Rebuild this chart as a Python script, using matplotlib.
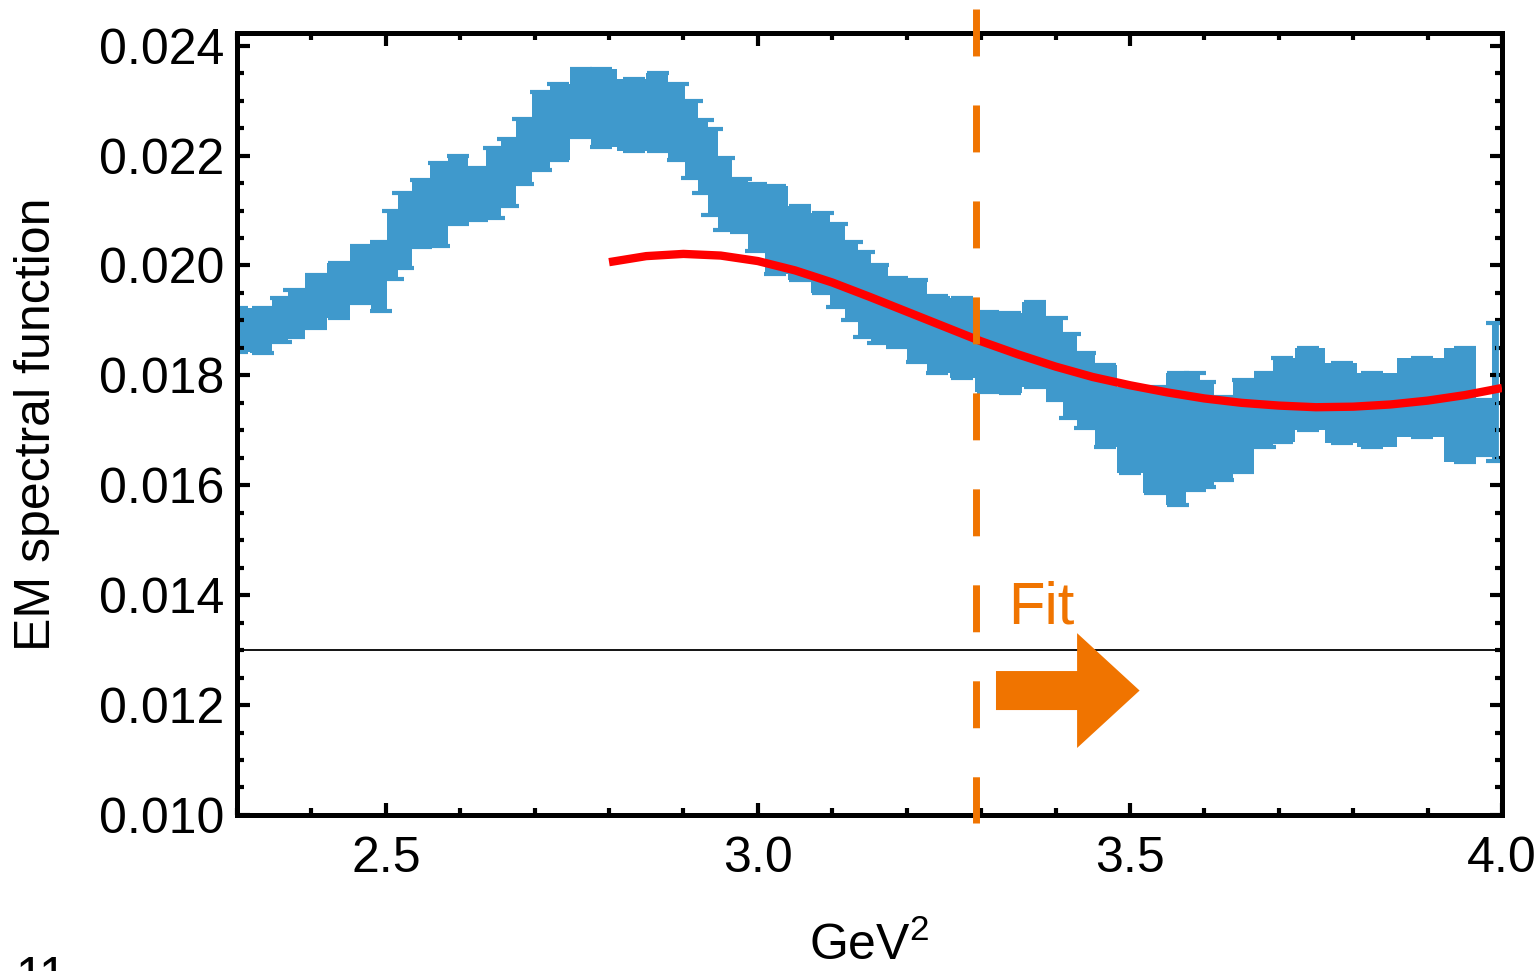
import matplotlib
matplotlib.use("Agg")
import matplotlib.pyplot as plt
from matplotlib.ticker import MultipleLocator, FormatStrFormatter

plt.rcParams['font.family'] = ['Liberation Sans', 'DejaVu Sans']
plt.rcParams['mathtext.fontset'] = 'custom'
plt.rcParams['mathtext.rm'] = 'Liberation Sans'
plt.rcParams['lines.scale_dashes'] = False

# lattice band: lower / upper edge of the error bars
band_x = [2.300, 2.335, 2.359, 2.377, 2.406, 2.437, 2.466, 2.493, 2.509, 2.523,
          2.547, 2.571, 2.597, 2.623, 2.645, 2.664, 2.685, 2.708, 2.732, 2.762,
          2.789, 2.833, 2.866, 2.893, 2.912, 2.926, 2.939, 2.954, 2.977, 2.997,
          3.023, 3.057, 3.087, 3.107, 3.127, 3.142, 3.162, 3.187, 3.214, 3.241,
          3.275, 3.309, 3.339, 3.372, 3.402, 3.419, 3.440, 3.466, 3.500, 3.534,
          3.564, 3.587, 3.601, 3.625, 3.652, 3.681, 3.704, 3.739, 3.785, 3.826,
          3.893, 3.950, 3.979, 3.993]
band_hi = [0.01922, 0.01922, 0.01940, 0.01955, 0.01982, 0.02004, 0.02036, 0.02042, 0.02100, 0.02131,
           0.02155, 0.02187, 0.02200, 0.02178, 0.02213, 0.02231, 0.02267, 0.02315, 0.02331, 0.02358,
           0.02358, 0.02340, 0.02351, 0.02331, 0.02300, 0.02264, 0.02249, 0.02196, 0.02158, 0.02149,
           0.02145, 0.02109, 0.02096, 0.02076, 0.02042, 0.02024, 0.02000, 0.01978, 0.01973, 0.01945,
           0.01940, 0.01915, 0.01913, 0.01933, 0.01905, 0.01876, 0.01840, 0.01818, 0.01778, 0.01778,
           0.01805, 0.01805, 0.01787, 0.01760, 0.01791, 0.01804, 0.01831, 0.01849, 0.01822, 0.01805,
           0.01831, 0.01849, 0.01755, 0.01895]
band_lo = [0.01842, 0.01840, 0.01860, 0.01869, 0.01887, 0.01904, 0.01931, 0.01918, 0.01976, 0.01995,
           0.02033, 0.02036, 0.02076, 0.02082, 0.02087, 0.02109, 0.02149, 0.02173, 0.02191, 0.02233,
           0.02215, 0.02209, 0.02209, 0.02191, 0.02160, 0.02131, 0.02091, 0.02064, 0.02060, 0.02027,
           0.01985, 0.01973, 0.01949, 0.01924, 0.01900, 0.01869, 0.01858, 0.01851, 0.01824, 0.01805,
           0.01796, 0.01769, 0.01767, 0.01778, 0.01755, 0.01722, 0.01705, 0.01669, 0.01622, 0.01585,
           0.01564, 0.01591, 0.01596, 0.01609, 0.01624, 0.01669, 0.01678, 0.01700, 0.01676, 0.01669,
           0.01687, 0.01642, 0.01655, 0.01645]

# fit curve
fit_x = [2.80, 2.85, 2.90, 2.95, 3.00, 3.05, 3.10, 3.15, 3.20, 3.25, 3.30, 3.35, 3.40,
         3.45, 3.50, 3.55, 3.60, 3.65, 3.70, 3.75, 3.80, 3.85, 3.90, 3.95, 4.00]
fit_y = [0.02006, 0.02017, 0.02021, 0.02018, 0.02008, 0.01991, 0.01969, 0.01943, 0.01916,
         0.01889, 0.01862, 0.01838, 0.01816, 0.01797, 0.01782, 0.01769, 0.01758, 0.01750,
         0.01745, 0.01742, 0.01743, 0.01747, 0.01754, 0.01764, 0.01777]

s_min = 3.293      # start of fit window
baseline = 0.013

blue = '#3F99CC'
orange = '#F07400'

fig = plt.figure(figsize=(15.4, 9.71), dpi=100)
ax = fig.add_axes([0.1539, 0.1607, 0.8214, 0.8053])

ax.fill_between(band_x, band_lo, band_hi, step='mid', color=blue, lw=0)
mid = [(a + b) / 2 for a, b in zip(band_lo, band_hi)]
err = [(b - a) / 2 for a, b in zip(band_lo, band_hi)]
ax.errorbar(band_x, mid, yerr=err, fmt='none', ecolor=blue, elinewidth=2,
            capsize=8, capthick=3)

ax.plot(fit_x, fit_y, color='red', lw=6, solid_capstyle='butt',
        solid_joinstyle='round', zorder=4)

ax.axhline(baseline, color='black', lw=1.3, zorder=3)

ax.plot([s_min, s_min], [0.024673, 0.00985], color=orange, lw=5,
        dashes=(33.8, 35.3), clip_on=False, zorder=5)

ax.text(3.336, 0.01349, 'Fit', color=orange, fontsize=43, ha='left', va='baseline')
ax.arrow(3.320, 0.012264, 3.513 - 3.320, 0, width=0.00071, head_width=0.00209,
         head_length=0.084, length_includes_head=True, color=orange, lw=0, zorder=5)

ax.set_xlim(2.3, 4.0)
ax.set_ylim(0.010, 0.02423)
ax.xaxis.set_major_locator(MultipleLocator(0.5))
ax.xaxis.set_minor_locator(MultipleLocator(0.1))
ax.yaxis.set_major_locator(MultipleLocator(0.002))
ax.yaxis.set_minor_locator(MultipleLocator(0.0005))
ax.xaxis.set_major_formatter(FormatStrFormatter('%.1f'))
ax.yaxis.set_major_formatter(FormatStrFormatter('%.3f'))

for sp in ax.spines.values():
    sp.set_linewidth(3.6)
ax.tick_params(which='both', direction='in', top=True, right=True, width=3, labelsize=36)
ax.tick_params(which='major', length=9)
ax.tick_params(which='minor', length=5)
ax.tick_params(axis='y', pad=9)
ax.tick_params(axis='x', pad=15)

ax.set_xlabel('GeV$^{2}$', fontsize=36, labelpad=29)
ax.set_ylabel('EM spectral function', fontsize=36, labelpad=28)

fig.text(15 / 1540, -21 / 971, '11', fontsize=36, ha='left', va='baseline')

fig.savefig('out.png', dpi=100)
